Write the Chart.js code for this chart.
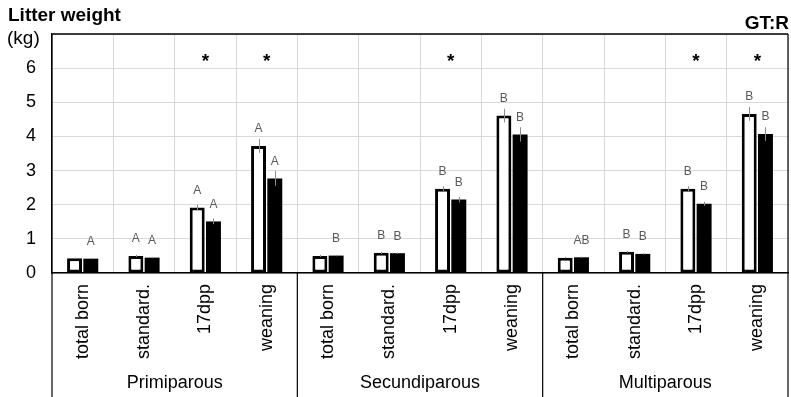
<!DOCTYPE html>
<html>
<head>
<meta charset="utf-8">
<script src="https://cdn.jsdelivr.net/npm/chart.js@4.4.1/dist/chart.umd.min.js"></script>
<style>
  html, body { margin: 0; padding: 0; background: #fff; }
  #wrap { width: 791px; height: 397px; }
</style>
</head>
<body>
<div id="wrap"><canvas id="litterChart" width="791" height="397"></canvas></div>
<script>
// Data
const stages = ['total born', 'standard.', '17dpp', 'weaning'];
const groups = ['Primiparous', 'Secundiparous', 'Multiparous'];
const categories = [...stages, ...stages, ...stages];
const yTicks = [0, 1, 2, 3, 4, 5, 6];

const whiteValues = [0.43, 0.50, 1.92, 3.72, 0.50, 0.59, 2.47, 4.61, 0.45, 0.62, 2.47, 4.66];
const blackValues = [0.42, 0.45, 1.51, 2.77, 0.51, 0.58, 2.15, 4.06, 0.46, 0.56, 2.03, 4.07];
const whiteErrors = [0.02, 0.03, 0.07, 0.20, 0.03, 0.03, 0.07, 0.20, 0.02, 0.03, 0.07, 0.20];
const blackErrors = [0.02, 0.02, 0.08, 0.22, 0.02, 0.02, 0.08, 0.21, 0.02, 0.02, 0.06, 0.20];
const whiteLetters = ['', 'A', 'A', 'A', '', 'B', 'B', 'B', '', 'B', 'B', 'B'];
const blackLetters = ['A', 'A', 'A', 'A', 'B', 'B', 'B', 'B', 'AB', 'B', 'B', 'B'];
const significant = [false, false, true, true, false, false, true, false, false, false, true, true];

const FONT = '"Liberation Sans", Arial, sans-serif';

// Error bars, letters, asterisks, borders and group labels
const annotations = {
    id: 'annotations',
    afterDatasetsDraw(chart) {
        const ctx = chart.ctx;
        const y = chart.scales.y;
        const errs = [whiteErrors, blackErrors];
        const letters = [whiteLetters, blackLetters];
        const values = [whiteValues, blackValues];

        ctx.save();
        for (let d = 0; d < 2; d++) {
            const meta = chart.getDatasetMeta(d);
            meta.data.forEach((bar, i) => {
                const v = values[d][i];
                const top = y.getPixelForValue(v + errs[d][i]);
                const bottom = y.getPixelForValue(v - errs[d][i]);
                ctx.strokeStyle = '#8c8c8c';
                ctx.lineWidth = 1;
                ctx.beginPath();
                ctx.moveTo(Math.round(bar.x) + 0.5, top);
                ctx.lineTo(Math.round(bar.x) + 0.5, bottom);
                ctx.stroke();

                if (letters[d][i]) {
                    ctx.fillStyle = '#595959';
                    ctx.font = '12px ' + FONT;
                    ctx.textAlign = 'center';
                    ctx.textBaseline = 'middle';
                    ctx.fillText(letters[d][i], bar.x, y.getPixelForValue(v) - 17);
                }
            });
        }

        // significance marks
        const x = chart.scales.x;
        ctx.fillStyle = '#000';
        ctx.font = 'bold 19px ' + FONT;
        ctx.textAlign = 'center';
        ctx.textBaseline = 'middle';
        significant.forEach((s, i) => {
            if (s) ctx.fillText('*', x.getPixelForValue(i), 62);
        });
        ctx.restore();
    },
    afterDraw(chart) {
        const ctx = chart.ctx;
        const area = chart.chartArea;
        const H = chart.height;
        const catW = area.width / categories.length;

        ctx.save();
        ctx.strokeStyle = '#000';
        ctx.lineWidth = 1.5;
        // top border
        ctx.beginPath();
        ctx.moveTo(area.left, area.top);
        ctx.lineTo(area.right, area.top);
        ctx.stroke();
        // group separators below axis, left and right full height
        ctx.lineWidth = 1.2;
        for (let g = 0; g <= groups.length; g++) {
            const gx = area.left + catW * stages.length * g;
            ctx.beginPath();
            if (g === 0 || g === groups.length) {
                ctx.moveTo(gx, area.top);
            } else {
                ctx.moveTo(gx, area.bottom);
            }
            ctx.lineTo(gx, H);
            ctx.stroke();
        }

        // group labels
        ctx.fillStyle = '#000';
        ctx.font = '18px ' + FONT;
        ctx.textAlign = 'center';
        ctx.textBaseline = 'middle';
        groups.forEach((name, g) => {
            const cx = area.left + catW * stages.length * (g + 0.5);
            ctx.fillText(name, cx, 383);
        });

        // titles
        ctx.textAlign = 'left';
        ctx.textBaseline = 'alphabetic';
        ctx.font = 'bold 19px ' + FONT;
        ctx.fillText('Litter weight', 8, 21);
        ctx.font = '19px ' + FONT;
        ctx.fillText('(kg)', 7, 44);
        ctx.textAlign = 'right';
        ctx.font = 'bold 19px ' + FONT;
        ctx.fillText('GT:R', 789, 29);
        ctx.restore();
    }
};

const ctx = document.getElementById('litterChart').getContext('2d');
const litterChart = new Chart(ctx, {
    type: 'bar',
    data: {
        labels: categories,
        datasets: [
            {
                label: 'white',
                data: whiteValues,
                backgroundColor: '#ffffff',
                borderColor: '#000000',
                borderWidth: 3,
                borderSkipped: false
            },
            {
                label: 'black',
                data: blackValues,
                backgroundColor: '#000000',
                borderWidth: 0
            }
        ]
    },
    options: {
        responsive: false,
        animation: false,
        categoryPercentage: 0.53,
        barPercentage: 0.92,
        layout: { padding: { top: 34, right: 3, bottom: 0, left: 0 } },
        plugins: {
            legend: { display: false },
            tooltip: { enabled: false }
        },
        scales: {
            x: {
                grid: {
                    color: '#d9d9d9',
                    lineWidth: 1,
                    drawTicks: false,
                    offset: true
                },
                border: { color: '#000', width: 1.5 },
                ticks: {
                    color: '#000',
                    font: { family: FONT, size: 18 },
                    minRotation: 90,
                    maxRotation: 90,
                    autoSkip: false,
                    padding: 11
                },
                afterFit(scale) { scale.height = 124; }
            },
            y: {
                min: 0,
                max: 7,
                grid: {
                    color: '#d9d9d9',
                    lineWidth: 1,
                    drawTicks: false
                },
                border: { color: '#000', width: 1.2 },
                ticks: {
                    stepSize: 1,
                    color: '#000',
                    font: { family: FONT, size: 18 },
                    padding: 16,
                    callback: (v) => yTicks.includes(v) ? v : ''
                },
                afterFit(scale) { scale.width = 52; }
            }
        }
    },
    plugins: [annotations]
});
</script>
</body>
</html>
